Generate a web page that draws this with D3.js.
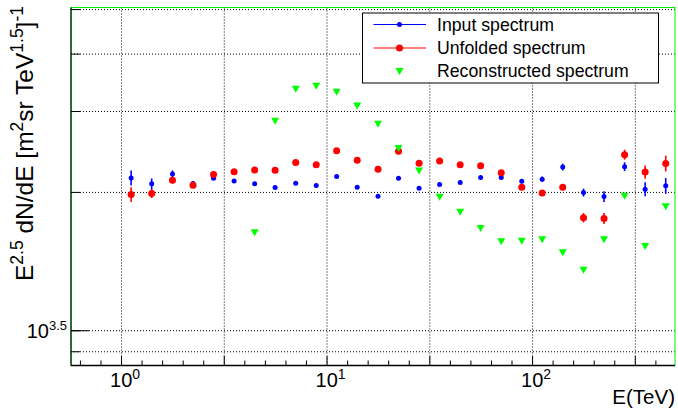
<!DOCTYPE html>
<html><head><meta charset="utf-8">
<script src="https://cdn.jsdelivr.net/npm/d3@7/dist/d3.min.js"></script>
<style>body{margin:0;background:#fff} svg{display:block;font-family:"Liberation Sans",Arial,Helvetica,sans-serif}</style>
</head><body>
<svg id="c" width="678" height="412"></svg>
<script>
// ---- data ----
const energies = [1.12,1.41,1.78,2.24,2.82,3.55,4.47,5.62,7.08,8.91,11.2,14.1,17.8,22.4,28.2,35.5,44.7,56.2,70.8,89.1,112,141,178,224,282,355,447];
const inputVals = [6784,6585,6923,6598,6775,6683,6585,6467,6608,6532,6836,6477,6191,6775,6444,6565,6631,6798,6798,6674,6741,7163,6303,6179,7178,6412,6522];
const inputErr  = [254,181,121,66,50,50,50,50,50,50,50,50,50,50,50,50,50,50,50,67,94,122,126,167,158,224,258];
const unfoldedVals = [6244,6275,6707,6541,6903,6993,7063,7053,7330,7243,7769,7412,7088,7757,7305,7386,7250,7214,6961,6477,6294,6477,5559,5539,7623,6986,7297];
const unfoldedErr  = [234,141,101,65,52,52,52,52,55,55,58,56,53,58,55,55,54,54,52,65,79,81,131,152,191,234,288];
const recoEnergies = [4.47,5.62,7.08,8.91,11.2,14.1,17.8,22.4,28.2,35.5,44.7,56.2,70.8,89.1,112,141,178,224,282,355,447];
const recoVals = [5156,9015,10582,10742,10425,9731,8880,7859,7021,6160,5711,5268,4924,4939,4974,4660,4270,4974,6191,4810,5875];

const seriesNames = ["Input spectrum","Unfolded spectrum","Reconstructed spectrum"];
const xGridTicks = [1, 3.1623, 10, 31.623, 100, 316.23];
const xLabelTicks = [1, 10, 100];
const xLabelExps = ["0","1","2"];
const yGridTicks = [2846, 3162.3, 6324.6, 9486.8, 12649, 15811];
const yLabelTick = 3162.3;
const yLabelExp = "3.5";

// ---- layout ----
const W = 678, H = 412;
const L = 71, R = 675, T = 7.5, B = 365.5;
const svg = d3.select("#c");
const x = d3.scaleLog().domain([0.571, 496]).range([L, R]);
const y = d3.scaleLog().domain([2650, 15937]).range([B, T]);

// minor x ticks each 0.1 decade (not on half decades)
const xMinor = d3.range(-2, 27).filter(m => m % 5 !== 0).map(m => Math.pow(10, m/10));

// grid
const gGrid = svg.append("g");
gGrid.append("g").attr("transform", `translate(0,${B})`)
  .call(d3.axisBottom(x).tickValues(xGridTicks).tickSize(-(B-T)).tickFormat(""))
  .call(g => g.select(".domain").remove())
  .call(g => g.selectAll("line").attr("stroke","#000").attr("stroke-dasharray","1,2"));
gGrid.append("g").attr("transform", `translate(${L},0)`)
  .call(d3.axisLeft(y).tickValues(yGridTicks).tickSize(-(R-L)).tickFormat(""))
  .call(g => g.select(".domain").remove())
  .call(g => g.selectAll("line").attr("stroke","#000").attr("stroke-dasharray","1,2"));

// frame (green) then black axes
svg.append("rect").attr("x",L).attr("y",T).attr("width",R-L).attr("height",B-T)
  .attr("fill","none").attr("stroke","#00ee00").attr("stroke-width",1);
svg.append("line").attr("x1",L).attr("x2",L).attr("y1",T).attr("y2",B).attr("stroke","#0a1a0a").attr("stroke-width",1.3);
svg.append("line").attr("x1",L).attr("x2",R).attr("y1",B).attr("y2",B).attr("stroke","#000").attr("stroke-width",1.3);

// ticks
const styleTicks = g => { g.select(".domain").remove(); g.selectAll("line").attr("stroke","#000"); };
svg.append("g").attr("transform", `translate(0,${B})`)
  .call(d3.axisBottom(x).tickValues(xGridTicks).tickSize(-9.5).tickFormat("")).call(styleTicks);
svg.append("g").attr("transform", `translate(0,${B})`)
  .call(d3.axisBottom(x).tickValues(xMinor).tickSize(-5).tickFormat("")).call(styleTicks);
svg.append("g").attr("transform", `translate(${L},0)`)
  .call(d3.axisLeft(y).tickValues(yGridTicks).tickSize(-9).tickFormat("")).call(styleTicks);
svg.append("g").attr("transform", `translate(${L},0)`)
  .call(d3.axisLeft(y).tickValues([yLabelTick]).tickSize(-18).tickFormat("")).call(styleTicks);

// tick labels
xLabelTicks.forEach((v,i) => {
  const t = svg.append("text").attr("x", x(v) - 11).attr("y", B + 21).attr("font-size", 20).attr("fill","#000");
  t.append("tspan").text("10");
  t.append("tspan").attr("font-size", 14).attr("dy", -8).text(xLabelExps[i]);
});
{
  const t = svg.append("text").attr("x", L - 4).attr("y", y(yLabelTick) + 7.5).attr("font-size", 20)
    .attr("text-anchor","end").attr("fill","#000");
  t.append("tspan").text("10");
  t.append("tspan").attr("font-size", 13).attr("dy", -8).text(yLabelExp);
}

// axis titles
svg.append("text").attr("x", R).attr("y", 404).attr("text-anchor","end").attr("font-size", 20.5).text("E(TeV)");
{
  const t = svg.append("text").attr("transform", `translate(33,6) rotate(-90)`)
    .attr("text-anchor","end").attr("font-size", 24.5).attr("fill","#000");
  const parts = [["E",0],["2.5",1],[" dN/dE [m",0],["2",1],["sr TeV",0],["1.5",1],["]",0],["-1",1]];
  let up = false;
  parts.forEach(([s,sup]) => {
    const ts = t.append("tspan").text(s);
    if (sup) { ts.attr("font-size", 17.5).attr("dy", -10); up = true; }
    else if (up) { ts.attr("dy", 10); up = false; }
  });
}

// data
const plot = svg.append("g");
function drawErr(vals, errs, color) {
  plot.append("g").selectAll("line").data(vals).join("line")
    .attr("x1",(d,i)=>x(energies[i])).attr("x2",(d,i)=>x(energies[i]))
    .attr("y1",(d,i)=>y(d-errs[i])).attr("y2",(d,i)=>y(d+errs[i]))
    .attr("stroke",color).attr("stroke-width",1.6);
}
drawErr(inputVals, inputErr, "#0000ff");
plot.append("g").selectAll("circle").data(inputVals).join("circle")
  .attr("cx",(d,i)=>x(energies[i])).attr("cy",d=>y(d)).attr("r",2.5).attr("fill","#0000ff");
drawErr(unfoldedVals, unfoldedErr, "#ff0000");
plot.append("g").selectAll("circle").data(unfoldedVals).join("circle")
  .attr("cx",(d,i)=>x(energies[i])).attr("cy",d=>y(d)).attr("r",3.5).attr("fill","#ff0000");
const tri = "M-4,-3.5L4,-3.5L0,3.5Z";
plot.append("g").selectAll("path").data(recoVals).join("path")
  .attr("d", tri).attr("transform",(d,i)=>`translate(${x(recoEnergies[i])},${y(d)})`).attr("fill","#00ff00");

// legend
const lg = svg.append("g");
lg.append("rect").attr("x",362.5).attr("y",13).attr("width",296).attr("height",70)
  .attr("fill","#fff").attr("stroke","#000").attr("stroke-width",1);
const rows = [24.5, 48, 71.4];
const colors = ["#0000ff","#ff0000","#00ff00"];
seriesNames.forEach((name,i) => {
  const ry = rows[i];
  if (i < 2) {
    lg.append("line").attr("x1",373.5).attr("x2",426).attr("y1",ry).attr("y2",ry).attr("stroke",colors[i]).attr("stroke-width",1.2);
    lg.append("circle").attr("cx",399.5).attr("cy",ry).attr("r", i===0 ? 2.5 : 3.5).attr("fill",colors[i]);
  } else {
    lg.append("path").attr("d",tri).attr("transform",`translate(399.5,${ry})`).attr("fill",colors[i]);
  }
  lg.append("text").attr("x",437).attr("y",ry+6).attr("font-size",17.7).text(name);
});
</script>
</body></html>
